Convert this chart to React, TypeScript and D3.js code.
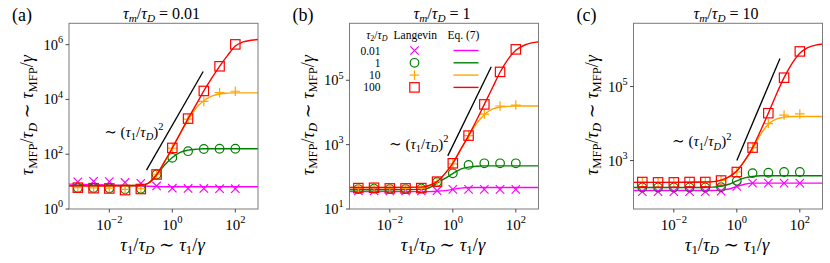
import React from "react";
import * as d3 from "d3";

// ---------- data (log10 values) ----------
const tau1Exp = [-3, -2.5, -2, -1.5, -1, -0.5, 0, 0.5, 1, 1.5, 2]; // log10(tau1/tauD) of Langevin points
const lineExp = [-3.3, -2, -1, -0.75, -0.5, -0.25, 0, 0.25, 0.5, 0.75, 1, 1.25, 1.5, 1.75, 2, 2.25, 2.5, 2.75]; // Eq.(7) sample points

const seriesNames = ["0.01", "1", "10", "100"];
const seriesColors = ["#ff00ff", "#008000", "#ffa500", "#ff0000"];
const seriesMarkers = ["x", "o", "+", "s"];

// Panel (a) tau_m/tau_D = 0.01
const aLangevin = [
  [0.99, 1.01, 1.0, 0.97, 0.94, 0.84, 0.76, 0.75, 0.75, 0.74, 0.74],
  [0.77, 0.77, 0.76, 0.72, 0.74, 1.26, 1.87, 2.11, 2.19, 2.2, 2.2],
  [0.78, 0.77, 0.76, 0.72, 0.74, 1.27, 2.22, 3.28, 3.93, 4.25, 4.3],
  [0.78, 0.76, 0.75, 0.69, 0.73, 1.26, 2.23, 3.3, 4.31, 5.21, 6.01],
];
const aEq7 = [
  [0.91, 0.88, 0.84, 0.83, 0.82, 0.81, 0.81, 0.81, 0.81, 0.81, 0.81, 0.81, 0.81, 0.81, 0.81, 0.81, 0.81, 0.81],
  [0.85, 0.85, 0.86, 0.95, 1.25, 1.6, 1.88, 2.07, 2.15, 2.18, 2.2, 2.2, 2.2, 2.2, 2.2, 2.2, 2.2, 2.2],
  [0.85, 0.85, 0.86, 0.95, 1.25, 1.72, 2.22, 2.75, 3.25, 3.68, 3.95, 4.12, 4.2, 4.23, 4.24, 4.24, 4.24, 4.24],
  [0.85, 0.85, 0.86, 0.95, 1.25, 1.72, 2.23, 2.76, 3.3, 3.8, 4.31, 4.78, 5.21, 5.6, 5.95, 6.1, 6.16, 6.19],
];
// Panel (b) tau_m/tau_D = 1
const bLangevin = [
  [1.56, 1.56, 1.56, 1.56, 1.56, 1.57, 1.61, 1.61, 1.61, 1.61, 1.61],
  [1.62, 1.63, 1.62, 1.62, 1.63, 1.84, 2.11, 2.37, 2.42, 2.42, 2.42],
  [1.65, 1.66, 1.64, 1.64, 1.65, 1.85, 2.4, 3.28, 3.95, 4.2, 4.23],
  [1.65, 1.66, 1.64, 1.64, 1.65, 1.85, 2.42, 3.28, 4.25, 5.26, 5.96],
];
const bEq7 = [
  [1.54, 1.54, 1.54, 1.54, 1.55, 1.57, 1.61, 1.65, 1.67, 1.67, 1.67, 1.67, 1.67, 1.67, 1.67, 1.67, 1.67, 1.67],
  [1.6, 1.6, 1.61, 1.66, 1.8, 1.95, 2.1, 2.24, 2.3, 2.33, 2.34, 2.34, 2.34, 2.34, 2.34, 2.34, 2.34, 2.34],
  [1.67, 1.67, 1.68, 1.73, 1.85, 2.1, 2.42, 2.85, 3.26, 3.65, 3.93, 4.1, 4.17, 4.19, 4.2, 4.2, 4.2, 4.2],
  [1.67, 1.67, 1.68, 1.73, 1.85, 2.1, 2.42, 2.85, 3.28, 3.75, 4.25, 4.75, 5.25, 5.65, 5.93, 6.08, 6.16, 6.2],
];
// Panel (c) tau_m/tau_D = 10
const cLangevin = [
  [2.16, 2.16, 2.16, 2.16, 2.16, 2.17, 2.3, 2.39, 2.39, 2.39, 2.39],
  [2.27, 2.27, 2.27, 2.27, 2.27, 2.28, 2.45, 2.66, 2.67, 2.69, 2.69],
  [2.42, 2.41, 2.41, 2.42, 2.42, 2.46, 2.69, 3.35, 4.0, 4.23, 4.26],
  [2.42, 2.41, 2.41, 2.42, 2.42, 2.46, 2.69, 3.35, 4.28, 5.24, 5.95],
];
const cEq7 = [
  [2.19, 2.19, 2.19, 2.19, 2.2, 2.23, 2.3, 2.36, 2.39, 2.39, 2.39, 2.39, 2.39, 2.39, 2.39, 2.39, 2.39, 2.39],
  [2.27, 2.27, 2.27, 2.28, 2.3, 2.36, 2.45, 2.53, 2.57, 2.59, 2.59, 2.59, 2.59, 2.59, 2.59, 2.59, 2.59, 2.59],
  [2.41, 2.41, 2.42, 2.43, 2.47, 2.56, 2.72, 3.0, 3.3, 3.7, 3.98, 4.12, 4.17, 4.19, 4.19, 4.19, 4.19, 4.19],
  [2.41, 2.41, 2.42, 2.43, 2.47, 2.56, 2.72, 3.0, 3.35, 3.8, 4.28, 4.78, 5.24, 5.62, 5.9, 6.05, 6.12, 6.15],
];

const panelLetters = ["(a)", "(b)", "(c)"];
const panelTitles = ["0.01", "1", "10"];
const yDomains = [[0, 6.78], [1, 6.77], [1.69, 6.71]];
const yTickExps = [[0, 2, 4, 6], [1, 3, 5], [3, 5]];
const xTickExps = [-2, 0, 2];
const xDomainExp = [-3.28, 2.72];
const refLineX = [[-0.82, 0.98], [-0.16, 1.22], [0, 1.37]];
const refLineY = [[1.42, 5.02], [2.65, 5.42], [3.0, 5.76]];
const annotPos = [[-0.28, 2.64], [-0.14, 2.87], [-0.17, 3.38]];

const langevinAll = [aLangevin, bLangevin, cLangevin];
const eq7All = [aEq7, bEq7, cEq7];

// ---------- layout ----------
const axLefts = [69, 349.5, 633.5];
const axW = 189;
const axTop = 23.3;
const axBottom = 209;
const FONT = '"Liberation Serif", "DejaVu Serif", "Noto Serif", serif';

type Seg = { t: string; it?: boolean; sub?: boolean; sup?: boolean };

function segs(size: number, list: Seg[], subShift = 0.24) {
  let cur = 0;
  return list.map((s, i) => {
    const target = s.sub ? size * subShift : s.sup ? -size * 0.45 : 0;
    const dy = target - cur;
    cur = target;
    return (
      <tspan key={i} dy={dy} style={{ fontSize: s.sub || s.sup ? size * 0.7 : size, fontStyle: s.it ? "italic" : "normal" }}>
        {s.t}
      </tspan>
    );
  });
}

const tau: Seg = { t: "τ", it: true };

function Marker({ type, x, y, color }: { type: string; x: number; y: number; color: string }) {
  const sw = 1.2;
  if (type === "x") {
    const h = 4.2;
    return (
      <g stroke={color} strokeWidth={sw}>
        <line x1={x - h} y1={y - h} x2={x + h} y2={y + h} />
        <line x1={x - h} y1={y + h} x2={x + h} y2={y - h} />
      </g>
    );
  }
  if (type === "+") {
    const h = 4.8;
    return (
      <g stroke={color} strokeWidth={sw}>
        <line x1={x - h} y1={y} x2={x + h} y2={y} />
        <line x1={x} y1={y - h} x2={x} y2={y + h} />
      </g>
    );
  }
  if (type === "o") {
    return <circle cx={x} cy={y} r={4.3} fill="none" stroke={color} strokeWidth={sw} />;
  }
  const s = 4.7;
  return <rect x={x - s} y={y - s} width={2 * s} height={2 * s} fill="none" stroke={color} strokeWidth={sw} />;
}

function Panel({ idx }: { idx: number }) {
  const left = axLefts[idx];
  const x = d3.scaleLog().domain([10 ** xDomainExp[0], 10 ** xDomainExp[1]]).range([left, left + axW]);
  const y = d3.scaleLog().domain([10 ** yDomains[idx][0], 10 ** yDomains[idx][1]]).range([axBottom, axTop]);
  const line = d3
    .line<[number, number]>()
    .x((d) => x(10 ** d[0]))
    .y((d) => y(10 ** d[1]))
    .curve(d3.curveMonotoneX);
  const lang = langevinAll[idx];
  const eq = eq7All[idx];
  const cx = left + axW / 2;
  const clipId = `clip${idx}`;
  const tickCol = "#333";

  return (
    <g>
      <defs>
        <clipPath id={clipId}>
          <rect x={left} y={axTop} width={axW} height={axBottom - axTop} />
        </clipPath>
      </defs>
      <g clipPath={`url(#${clipId})`}>
        {seriesNames.map((_, s) => (
          <g key={s}>
            {lang[s].map((v, i) => (
              <Marker key={i} type={seriesMarkers[s]} x={x(10 ** tau1Exp[i])} y={y(10 ** v)} color={seriesColors[s]} />
            ))}
            <path
              d={line(lineExp.map((e, i) => [e, eq[s][i]] as [number, number])) || ""}
              fill="none"
              stroke={seriesColors[s]}
              strokeWidth={1.4}
            />
          </g>
        ))}
        <line
          x1={x(10 ** refLineX[idx][0])}
          y1={y(10 ** refLineY[idx][0])}
          x2={x(10 ** refLineX[idx][1])}
          y2={y(10 ** refLineY[idx][1])}
          stroke="#000"
          strokeWidth={1.3}
        />
      </g>
      <text x={x(10 ** annotPos[idx][0])} y={y(10 ** annotPos[idx][1])} textAnchor="end" fill="#000">
        {segs(15, [{ t: "∼ (" }, tau, { t: "1", sub: true }, { t: "/" }, tau, { t: "D", sub: true, it: true }, { t: ")" }, { t: "2", sup: true }])}
      </text>
      {/* frame */}
      <rect x={left} y={axTop} width={axW} height={axBottom - axTop} fill="none" stroke="#7a7a7a" strokeWidth={1} />
      {/* x ticks */}
      {xTickExps.map((e) => (
        <g key={e}>
          <line x1={x(10 ** e)} x2={x(10 ** e)} y1={axBottom} y2={axBottom + 3.5} stroke={tickCol} strokeWidth={0.9} />
          <text x={x(10 ** e)} y={axBottom + 21} textAnchor="middle" fill="#000">
            {segs(15, [{ t: "10" }, { t: e < 0 ? `−${-e}` : `${e}`, sup: true }])}
          </text>
        </g>
      ))}
      {yTickExps[idx].map((e) => (
        <g key={e}>
          <line x1={left - 3.5} x2={left} y1={y(10 ** e)} y2={y(10 ** e)} stroke={tickCol} strokeWidth={0.9} />
          <text x={left - 6} y={y(10 ** e) + 5} textAnchor="end" fill="#000">
            {segs(14.5, [{ t: "10" }, { t: `${e}`, sup: true }])}
          </text>
        </g>
      ))}
      {/* x label */}
      <text x={cx - 1} y={250.5} textAnchor="middle" fill="#000">
        {segs(18.5, [tau, { t: "1", sub: true }, { t: "/" }, tau, { t: "D", sub: true, it: true }, { t: " ∼ " }, tau, { t: "1", sub: true }, { t: "/" }, { t: "γ", it: true }], 0.2)}
      </text>
      {/* y label */}
      <text transform={`translate(${left - 36},${(axTop + axBottom) / 2 - 1}) rotate(-90)`} textAnchor="middle" fill="#000">
        {segs(18, [tau, { t: "MFP", sub: true }, { t: "/" }, tau, { t: "D", sub: true, it: true }, { t: " ∼ " }, tau, { t: "MFP", sub: true }, { t: "/" }, { t: "γ", it: true }], 0.2)}
      </text>
      {/* title */}
      <text x={cx - 2} y={18.5} textAnchor="middle" fill="#000">
        {segs(16, [tau, { t: "m", sub: true, it: true }, { t: "/" }, tau, { t: "D", sub: true, it: true }, { t: ` = ${panelTitles[idx]}` }])}
      </text>
      {/* panel letter */}
      <text x={axLefts[idx] - 57} y={21} style={{ fontSize: 18 }} fill="#000">
        {panelLetters[idx]}
      </text>
      {idx === 1 && <Legend left={left} />}
    </g>
  );
}

function Legend({ left }: { left: number }) {
  const fs = 11.5;
  const rowY = [54.5, 66.8, 79.1, 91.4];
  const mx = left + 65;
  return (
    <g fill="#000">
      <text x={left + 38} y={38.5} textAnchor="end">
        {segs(fs, [tau, { t: "2", sub: true }, { t: "/" }, tau, { t: "D", sub: true, it: true }], 0.18)}
      </text>
      <text x={left + 44} y={38.5} style={{ fontSize: fs }}>Langevin</text>
      <text x={left + 98} y={38.5} style={{ fontSize: fs }}>Eq. (7)</text>
      {seriesNames.map((n, s) => (
        <g key={n}>
          <text x={left + 31} y={rowY[s]} textAnchor="end" style={{ fontSize: fs }}>
            {n}
          </text>
          <Marker type={seriesMarkers[s]} x={mx} y={rowY[s] - 4} color={seriesColors[s]} />
          <line x1={left + 104} x2={left + 129} y1={rowY[s] - 4} y2={rowY[s] - 4} stroke={seriesColors[s]} strokeWidth={1.4} />
        </g>
      ))}
    </g>
  );
}

export default function App() {
  return (
    <svg width={830} height={263} style={{ position: "absolute", left: 0, top: 0, background: "#fff", fontFamily: FONT }}>
      <rect width={830} height={263} fill="#fff" />
      {[0, 1, 2].map((i) => (
        <Panel key={i} idx={i} />
      ))}
    </svg>
  );
}
